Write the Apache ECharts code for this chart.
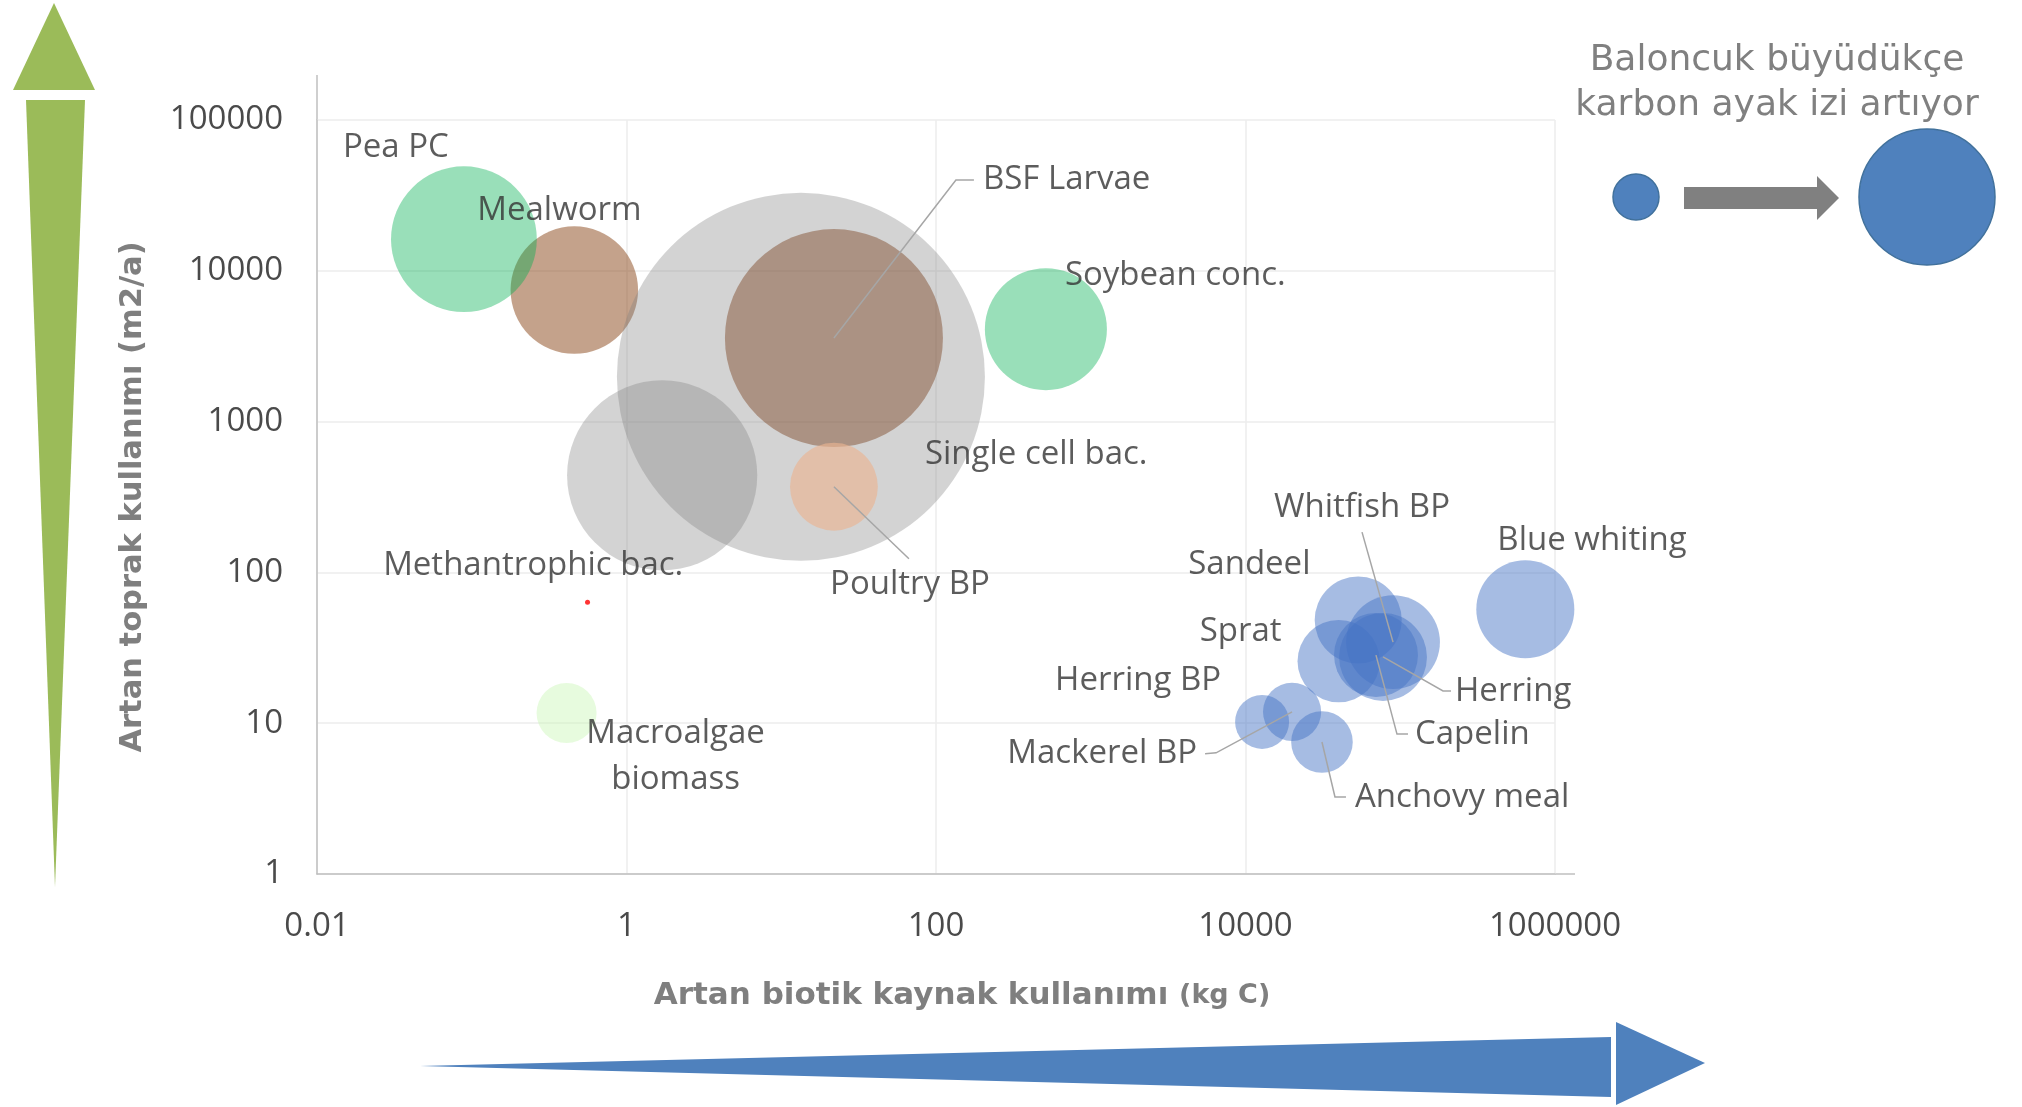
<!DOCTYPE html>
<html>
<head>
<meta charset="utf-8">
<script src="https://cdn.jsdelivr.net/npm/echarts@6/dist/echarts.min.js"></script>
<style>
html, body { margin: 0; padding: 0; background: #fff; }
#chart { width: 2022px; height: 1107px; }
</style>
</head>
<body>
<div id="chart"></div>
<script>
// veri: kaynak adı, biotik kaynak (kg C), toprak kullanımı (m2/a), karbon ayak izi (balon)
var names = ['Mealworm', 'Pea PC', 'Single cell bac.', 'Methantrophic bac.', 'BSF Larvae', 'Poultry BP',
	'Soybean conc.', 'Macroalgae\nbiomass', 'Blue whiting', 'Sandeel', 'Whitfish BP', 'Sprat',
	'Herring', 'Capelin', 'Herring BP', 'Mackerel BP', 'Anchovy meal'];
var biotic = [0.46, 0.089, 13.4, 1.7, 21.9, 21.9, 513, 0.41, 643000, 53500, 89800, 40000, 77400, 69700, 12800, 20000, 31200];
var land = [7450, 16200, 1980, 440, 3580, 370, 4100, 11.7, 57, 48.3, 34.5, 25.8, 27.5, 28.3, 10.2, 11.9, 7.5];
var footprint = [12, 15.7, 100, 26.7, 35.1, 5.7, 11, 2.66, 7.1, 5.6, 6.5, 5, 5.7, 5.2, 2.15, 2.5, 2.8];
var groups = ['brown', 'green', 'gray', 'gray', 'bsf', 'peach', 'green', 'algae',
	'blue', 'blue', 'blue', 'blue', 'blue', 'blue', 'blue', 'blue', 'blue'];
// kırmızı nokta
var dotX = [0.56];
var dotY = [63.5];

var xTicks = [0.01, 1, 100, 10000, 1000000];
var yTicks = [1, 10, 100, 1000, 10000, 100000];

var groupColors = {
	brown: 'rgba(132,60,12,0.6)',
	bsf: 'rgba(115,55,20,0.52)',
	green: 'rgba(0,176,80,0.5)',
	gray: 'rgba(127,127,127,0.43)',
	peach: 'rgba(235,180,145,0.8)',
	algae: 'rgba(200,245,180,0.55)',
	blue: 'rgba(68,114,196,0.6)'
};

// etiket konumu (balon merkezine göre): dx, dy, hizalama, kılavuz çizgi noktaları
var labelOffsets = [
	[-97, -79, 'left'],
	[-121, -92, 'left'],
	[124, 78, 'left'],
	[-279, 90, 'left'],
	[149, -158, 'left', [[0, 0], [122, -158], [140, -158]]],
	[76, 98, 'center', [[0, 0], [75, 72]]],
	[19, -54, 'left'],
	[109, 44, 'center'],
	[-28, -69, 'left'],
	[-170, -55, 'left'],
	[-31, -135, 'center', [[0, 0], [-31, -110]]],
	[-139, -30, 'left'],
	[72, 35, 'left', [[0, 0], [60, 34], [68, 34]]],
	[39, 80, 'left', [[0, 0], [21, 79], [32, 79]]],
	[-207, -41, 'left'],
	[-95, 42, 'right', [[0, 0], [-76, 41], [-87, 42]]],
	[33, 56, 'left', [[0, 0], [13, 55], [24, 55]]]
];

var bubbleData = [];
for(var i = 0; i < names.length; i++) {
	bubbleData.push({
		name: names[i],
		value: [biotic[i], land[i], footprint[i]],
		itemStyle: { color: groupColors[groups[i]] }
	});
}
var dotData = [];
for(var j = 0; j < dotX.length; j++) {
	dotData.push([dotX[j], dotY[j]]);
}

function tickText(v) {
	return String(+(+v).toPrecision(6));
}

var decor = [
	// sol yeşil ok
	{ type: 'polygon', shape: { points: [[13, 90], [95, 90], [54, 3]] }, style: { fill: '#9bbb59' } },
	{ type: 'polygon', shape: { points: [[26, 100], [85, 100], [55, 887]] }, style: { fill: '#9bbb59' } },
	// alt mavi ok
	{ type: 'polygon', shape: { points: [[420, 1066], [1611, 1037], [1611, 1097]] }, style: { fill: '#4f81bd' } },
	{ type: 'polygon', shape: { points: [[1616, 1022], [1705, 1063], [1616, 1105]] }, style: { fill: '#4f81bd' } },
	// eksen uzantıları
	{ type: 'line', shape: { x1: 317, y1: 75, x2: 317, y2: 120 }, style: { stroke: '#bfbfbf', lineWidth: 1.5 } },
	{ type: 'line', shape: { x1: 1555, y1: 874, x2: 1575, y2: 874 }, style: { stroke: '#bfbfbf', lineWidth: 1.5 } },
	// eksen başlıkları
	{
		type: 'text', x: 133, y: 497, rotation: Math.PI / 2,
		style: {
			text: 'Artan toprak kullanımı (m2/a)',
			fontFamily: 'DejaVu Sans', fontWeight: 'bold', fontSize: 30.5,
			fill: '#7f7f7f', align: 'center', verticalAlign: 'middle'
		}
	},
	{
		type: 'text', x: 962, y: 996,
		style: {
			text: '{a|Artan biotik kaynak kullanımı }{b|(kg C)}',
			align: 'center', verticalAlign: 'middle',
			rich: {
				a: { fontFamily: 'DejaVu Sans', fontWeight: 'bold', fontSize: 31, fill: '#7f7f7f' },
				b: { fontFamily: 'DejaVu Sans', fontWeight: 'bold', fontSize: 27, fill: '#7f7f7f' }
			}
		}
	},
	// balon açıklaması
	{
		type: 'text', x: 1777, y: 61,
		style: {
			text: 'Baloncuk büyüdükçe', fontFamily: 'DejaVu Sans', fontSize: 36,
			fill: '#808080', align: 'center', verticalAlign: 'middle'
		}
	},
	{
		type: 'text', x: 1777, y: 106,
		style: {
			text: 'karbon ayak izi artıyor', fontFamily: 'DejaVu Sans', fontSize: 36,
			fill: '#808080', align: 'center', verticalAlign: 'middle'
		}
	},
	{ type: 'circle', shape: { cx: 1636, cy: 197, r: 23 }, style: { fill: '#4f81bd', stroke: '#41719c', lineWidth: 1.5 } },
	{
		type: 'polygon',
		shape: { points: [[1684, 187], [1817, 187], [1817, 176], [1839, 198], [1817, 220], [1817, 209], [1684, 209]] },
		style: { fill: '#808080' }
	},
	{ type: 'circle', shape: { cx: 1927, cy: 197, r: 68 }, style: { fill: '#4f81bd', stroke: '#41719c', lineWidth: 1.5 } }
];

var myChart = echarts.init(document.getElementById('chart'));
var option = {
	animation: false,
	backgroundColor: '#fff',
	grid: { left: 317, top: 120, width: 1238, height: 754 },
	xAxis: {
		type: 'log',
		logBase: 10,
		min: xTicks[0],
		max: xTicks[xTicks.length - 1],
		interval: 2,
		axisLine: { show: true, onZero: false, lineStyle: { color: '#bfbfbf', width: 1.5 } },
		axisTick: { show: false },
		splitLine: { show: true, lineStyle: { color: '#ececec', width: 1.5 } },
		axisLabel: {
			margin: 36,
			fontFamily: 'Open Sans',
			fontSize: 33,
			color: '#4a4a4a',
			formatter: tickText
		}
	},
	yAxis: {
		type: 'log',
		logBase: 10,
		min: yTicks[0],
		max: yTicks[yTicks.length - 1],
		interval: 1,
		axisLine: { show: true, onZero: false, lineStyle: { color: '#bfbfbf', width: 1.5 } },
		axisTick: { show: false },
		splitLine: { show: true, lineStyle: { color: '#ececec', width: 1.5 } },
		axisLabel: {
			margin: 34,
			fontFamily: 'Open Sans',
			fontSize: 33,
			color: '#4a4a4a',
			formatter: tickText
		}
	},
	series: [{
		type: 'scatter',
		data: bubbleData,
		symbol: 'circle',
		symbolSize: function(val) {
			return Math.sqrt(val[2]) * 36.8;
		},
		label: {
			show: true,
			formatter: '{b}',
			fontFamily: 'Open Sans',
			fontSize: 33,
			lineHeight: 46,
			color: '#333333'
		},
		labelLayout: function(p) {
			var o = labelOffsets[p.dataIndex];
			var cx = p.rect.x + p.rect.width / 2;
			var cy = p.rect.y + p.rect.height / 2;
			return { x: cx + o[0], y: cy + o[1], align: o[2], verticalAlign: 'middle' };
		}
	}, {
		type: 'scatter',
		data: dotData,
		symbolSize: 5,
		itemStyle: { color: '#ff0000' }
	}],
	graphic: decor
};
myChart.setOption(option);

// kılavuz çizgiler: balon merkezinden etikete
var leaders = [];
for(var k = 0; k < names.length; k++) {
	var pts = labelOffsets[k][3];
	if(!pts) continue;
	var c = myChart.convertToPixel({ seriesIndex: 0 }, [biotic[k], land[k]]);
	leaders.push({
		type: 'polyline',
		z: 100,
		shape: { points: pts.map(function(pt) { return [c[0] + pt[0], c[1] + pt[1]]; }) },
		style: { stroke: '#a6a6a6', lineWidth: 1.5, fill: null }
	});
}
myChart.setOption({ graphic: decor.concat(leaders) });
</script>
</body>
</html>
